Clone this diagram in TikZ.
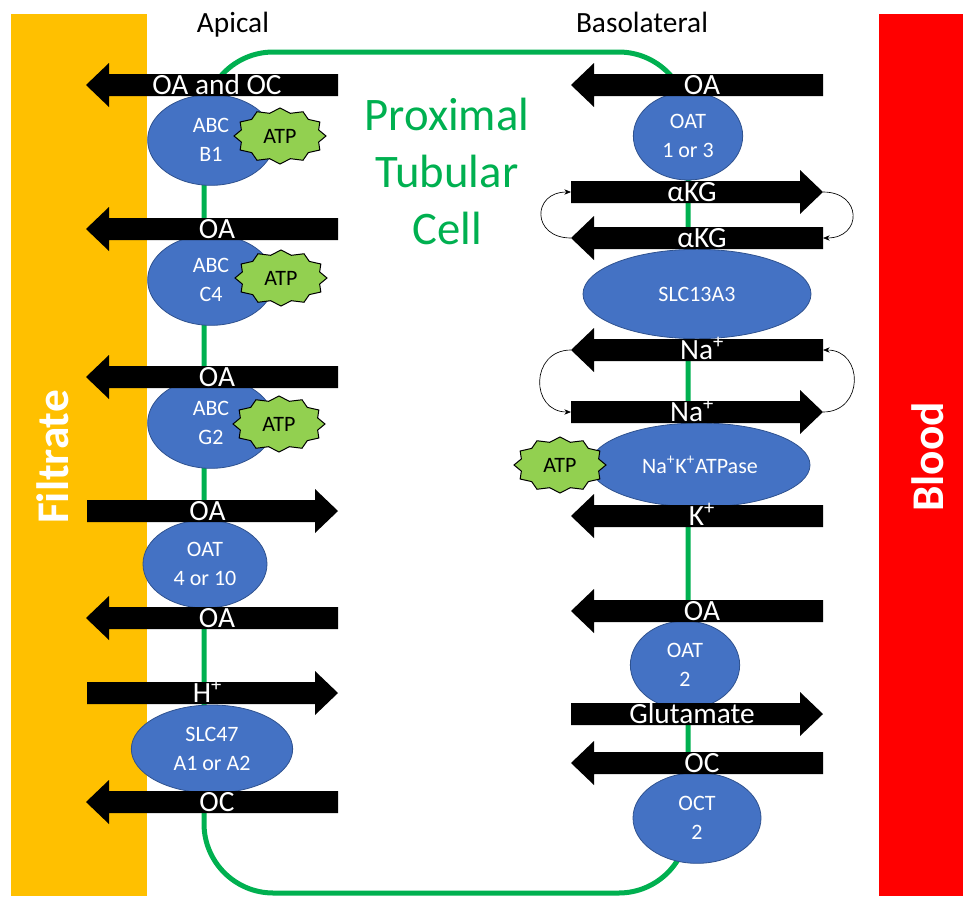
\documentclass[tikz,border=0pt]{standalone}
\usepackage{fontspec}
\setmainfont{Carlito}
\usetikzlibrary{shapes.geometric,arrows.meta}

\definecolor{filtrate}{HTML}{FFC000}
\definecolor{blood}{HTML}{FF0000}
\definecolor{cellgreen}{HTML}{00B050}
\definecolor{protblue}{HTML}{4472C4}
\definecolor{protedge}{HTML}{2F528F}
\definecolor{atpgreen}{HTML}{92D050}

\tikzset{
  protein/.style={ellipse, fill=protblue, draw=protedge, line width=0.6pt, text=white, align=center, inner sep=0pt, font=\fontsize{16.5}{21.75}\selectfont},
  flowlabel/.style={text=white, anchor=base, inner sep=0pt, font=\fontsize{22}{26}\selectfont},
  atpstar/.style={fill=atpgreen, draw=black, line width=0.75pt, line join=miter},
  atplabel/.style={inner sep=0pt, font=\fontsize{16.5}{19}\selectfont},
  cellwall/.style={draw=cellgreen, line width=3.75pt, rounded corners=52pt},
  cycling/.style={-{Stealth[length=5pt,width=4pt]}, line width=0.5pt},
  sidelabel/.style={text=white, rotate=90, inner sep=0pt, font=\fontsize{34}{40}\selectfont\bfseries},
  sidetitle/.style={anchor=base, inner sep=0pt, font=\fontsize{22}{26}\selectfont},
}

% block arrow pointing left: name, tip x, tail x, y, label
\newcommand{\leftflow}[5]{%
  \fill (#2,#4) -- ({#2+23},{#4-22}) -- ({#2+23},{#4-11}) -- (#3,{#4-11})
    -- (#3,{#4+11}) -- ({#2+23},{#4+11}) -- ({#2+23},{#4+22}) -- cycle;
  \coordinate (#1-tip) at (#2,#4);
  \coordinate (#1-tail) at (#3,#4);
  \node[flowlabel] (#1) at ({(#2+#3)/2+5},{#4+9}) {#5};
}
% block arrow pointing right: name, tail x, tip x, y, label
\newcommand{\rightflow}[5]{%
  \fill (#3,#4) -- ({#3-23},{#4-22}) -- ({#3-23},{#4-11}) -- (#2,{#4-11})
    -- (#2,{#4+11}) -- ({#3-23},{#4+11}) -- ({#3-23},{#4+22}) -- cycle;
  \coordinate (#1-tip) at (#3,#4);
  \coordinate (#1-tail) at (#2,#4);
  \node[flowlabel] (#1) at ({(#2+#3)/2-5},{#4+9}) {#5};
}
% ATP seal: name, x, y
\newcommand{\atpseal}[3]{%
  \filldraw[atpstar] ({#2+46},#3) \foreach \k in {1,...,23}{
    -- ({#2+(isodd(\k)?40:46)*cos(15*\k)},{#3+(isodd(\k)?23.5:28)*sin(15*\k)})} -- cycle;
  \node[atplabel] (#1) at (#2,#3) {ATP};
}

\begin{document}
\begin{tikzpicture}[x=0.75pt, y=-0.75pt]
\useasboundingbox (0,0) rectangle (963,896);

% sides
\fill[filtrate] (11,14) rectangle (147,896);
\fill[blood] (879,14) rectangle (963,896);
\node[sidelabel] (filtrate) at (53,457) {Filtrate};
\node[sidelabel] (blood) at (928,457) {Blood};
\node[sidetitle] (apical) at (233,32) {Apical};
\node[sidetitle] (basolateral) at (642,32) {Basolateral};

% cell
\draw[cellwall] (204,52) rectangle (688,893);
\node[text=cellgreen, align=center, inner sep=0pt, font=\fontsize{35}{42.75}\selectfont] (cell) at (447,171) {Proximal\\Tubular\\Cell};

% transporters
\node[protein, minimum width=95pt, minimum height=68pt] (abcb1) at (211,140) {ABC\\B1};
\node[protein, minimum width=95pt, minimum height=68pt] (abcc4) at (211,280) {ABC\\C4};
\node[protein, minimum width=95pt, minimum height=68pt] (abcg2) at (211,423) {ABC\\G2};
\node[protein, minimum width=93pt, minimum height=66pt] (oat410) at (205,564) {OAT\\4 or 10};
\node[protein, minimum width=121pt, minimum height=66pt] (slc47) at (212,749) {SLC47\\A1 or A2};
\node[protein, minimum width=82pt, minimum height=66pt] (oat13) at (688,136) {OAT\\1 or 3};
\node[protein, minimum width=171pt, minimum height=67pt] (slc13a3) at (697,294) {SLC13A3};
\node[protein, minimum width=165pt, minimum height=63pt] (nakatpase) at (700,465) {Na\textsuperscript{+}K\textsuperscript{+}ATPase};
\node[protein, minimum width=82pt, minimum height=66pt] (oat2) at (685,665) {OAT\\2};
\node[protein, minimum width=96pt, minimum height=68pt] (oct2) at (697,818) {OCT\\2};

% apical fluxes
\leftflow{oaoc}{86}{338}{85}{OA and OC}
\leftflow{oac4}{86}{338}{229}{OA}
\leftflow{oag2}{86}{338}{377}{OA}
\rightflow{oain}{87}{338}{511}{OA}
\leftflow{oaout}{86}{338}{618}{OA}
\rightflow{hin}{87}{338}{693}{H\textsuperscript{+}}
\leftflow{ocout}{86}{338}{802}{OC}

% basolateral fluxes
\leftflow{oabl}{571}{823}{85}{OA}
\rightflow{akgout}{571}{823}{192}{αKG}
\leftflow{akgin}{571}{823}{238}{αKG}
\leftflow{nain}{571}{823}{350}{Na\textsuperscript{+}}
\rightflow{naout}{571}{823}{412}{Na\textsuperscript{+}}
\leftflow{kin}{571}{823}{516}{K\textsuperscript{+}}
\leftflow{oain2}{571}{823}{611}{OA}
\rightflow{gluout}{571}{823}{714}{Glutamate}
\leftflow{ocin}{571}{823}{763}{OC}

% ATP
\atpseal{atpb1}{280}{136}
\atpseal{atpc4}{281}{278}
\atpseal{atpg2}{279}{424}
\atpseal{atpnak}{560}{465}

% recycling loops
\draw[cycling] (akgin-tip) to[out=180, in=180, looseness=2.2] (akgout-tail);
\draw[cycling] (akgout-tip) to[out=0, in=0, looseness=2.2] (akgin-tail);
\draw[cycling] (nain-tip) to[out=180, in=180, looseness=1.7] (naout-tail);
\draw[cycling] (naout-tip) to[out=0, in=0, looseness=1.7] (nain-tail);
\end{tikzpicture}
\end{document}
